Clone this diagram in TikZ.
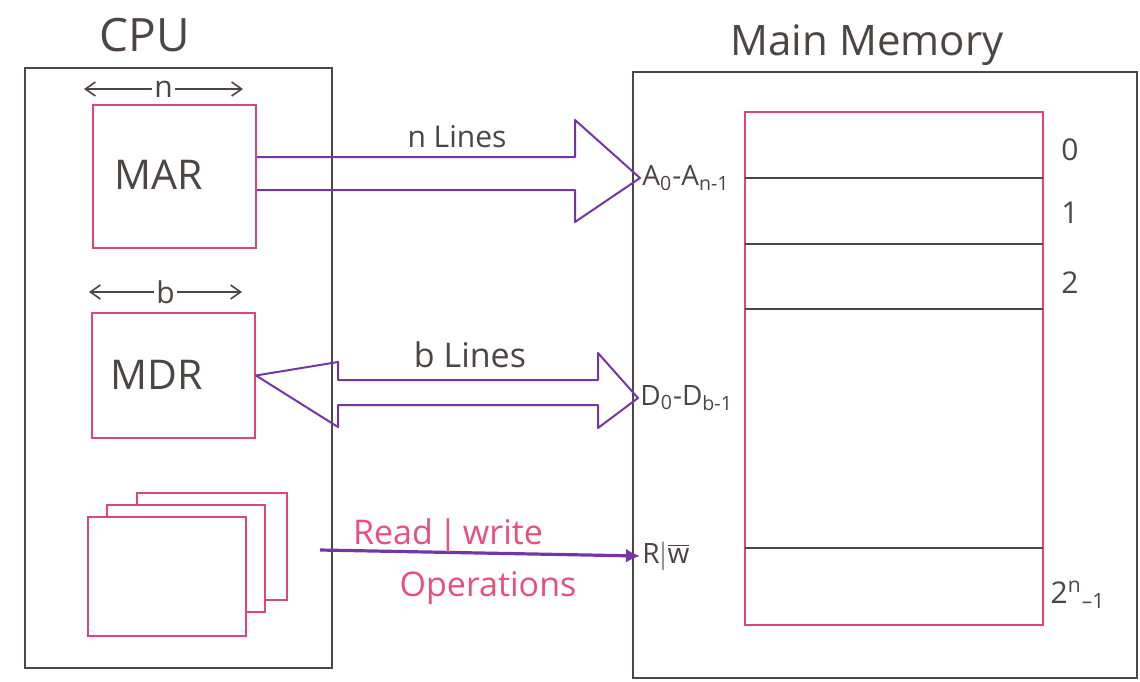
\documentclass[tikz,border=0pt]{standalone}
\usepackage{fontspec}
\setmainfont{Open Sans}
\usetikzlibrary{arrows.meta}
\definecolor{pencil}{HTML}{4D4545}
\definecolor{pinkink}{HTML}{E0447C}
\definecolor{purpink}{HTML}{7436A6}
\definecolor{redink}{HTML}{E8507A}
\begin{document}
\begin{tikzpicture}[
    x=0.5pt,y=-0.5pt,
    every node/.style={text=pencil, font=\fontsize{15}{18}\selectfont},
    title/.style={font=\fontsize{23}{26}\selectfont},
    outer/.style={draw=pencil, line width=1.1pt},
    reg/.style={draw=pinkink, line width=1pt, inner sep=0pt},
    card/.style={draw=pinkink, line width=1pt, fill=white},
    rowline/.style={draw=pencil, line width=1pt},
    bus/.style={draw=purpink, line width=1pt, line join=round},
    span/.style={draw=pencil, line width=0.8pt, {Straight Barb[length=5pt,width=7pt]}-{Straight Barb[length=5pt,width=7pt]}},
    regname/.style={font=\fontsize{20.5}{24}\selectfont},
    pin/.style={font=\fontsize{14}{16}\selectfont, inner sep=1pt},
    opnote/.style={text=redink, font=\fontsize{17}{20}\selectfont}
]
    \useasboundingbox (0,0) rectangle (1140,681);

    % CPU side
    \node[title] (cputitle) at (145,35) {CPU};
    \draw[outer] (25,68) rectangle (332,668);

    \node[reg, minimum width=81.5pt, minimum height=71.5pt] (mar) at (174.5,176.5) {};
    \node[regname] (marname) at (159,175) {MAR};
    \draw[span] ([shift={(-4pt,7.5pt)}]mar.north west) -- node[fill=white, inner sep=1pt] (nwidth) {n} ([shift={(-7pt,7.5pt)}]mar.north east);

    \node[reg, minimum width=81.5pt, minimum height=62.5pt] (mdr) at (173.5,375.5) {};
    \node[regname] (mdrname) at (157,375) {MDR};
    \draw[span] ([shift={(-1pt,10pt)}]mdr.north west) -- node[fill=white, inner sep=1pt] (bwidth) {b} ([shift={(-7pt,10pt)}]mdr.north east);

    % control unit cards
    \draw[card] (137,493) rectangle (287,600);
    \draw[card] (107,505) rectangle (265,612);
    \draw[card] (88,517) rectangle (246,636);

    % Main memory side
    \node[title, font=\fontsize{21}{24}\selectfont] (memtitle) at (867,45) {Main Memory};
    \draw[outer] (633,72) rectangle (1137,678);

    \node[reg, minimum width=149pt, minimum height=256.5pt] (mem) at (894,368.5) {};
    \foreach \y in {178,244,309,548}
        \draw[rowline] (745,\y) -- (1043,\y);
    \foreach \y/\i in {150/0,213/1,283/2}
        \node (idx\i) at (1070,\y) {\i};
    \node (idxlast) at (1078,595) {2\textsuperscript{n}\textsubscript{--1}};

    \node[pin, anchor=west] (apins) at (640,178) {A\textsubscript{0}-A\textsubscript{n-1}};
    \node[pin, anchor=west] (dpins) at (638,398) {D\textsubscript{0}-D\textsubscript{b-1}};
    \node[pin, anchor=west] (rwpin) at (640,556) {R$|\overline{\mbox{w}}$};

    % address bus
    \draw[bus] ([yshift=9.75pt]mar.east) -- (575,157) -- (575,120) -- (apins.west)
        -- (575,222) -- (575,190) -- ([yshift=-6.75pt]mar.east);
    \node (alines) at (457,137) {n Lines};

    % data bus
    \draw[bus] (mdr.east) -- (338,362) -- (338,380) -- (598,380) -- (598,353) -- (dpins.west)
        -- (598,428) -- (598,405) -- (338,405) -- (338,427) -- cycle;
    \node[font=\fontsize{17}{20}\selectfont] (blines) at (470,355) {b Lines};

    % control line
    \coordinate (rwstart) at (320,550);
    \draw[bus, line width=1.6pt, -{Latex[length=7pt,width=7pt]}] (rwstart) -- (rwpin.west);
    \node[opnote] (rwtext) at (448,536) {Read\,|\,write};
    \node[opnote] (optext) at (488,588) {Operations};
\end{tikzpicture}
\end{document}
